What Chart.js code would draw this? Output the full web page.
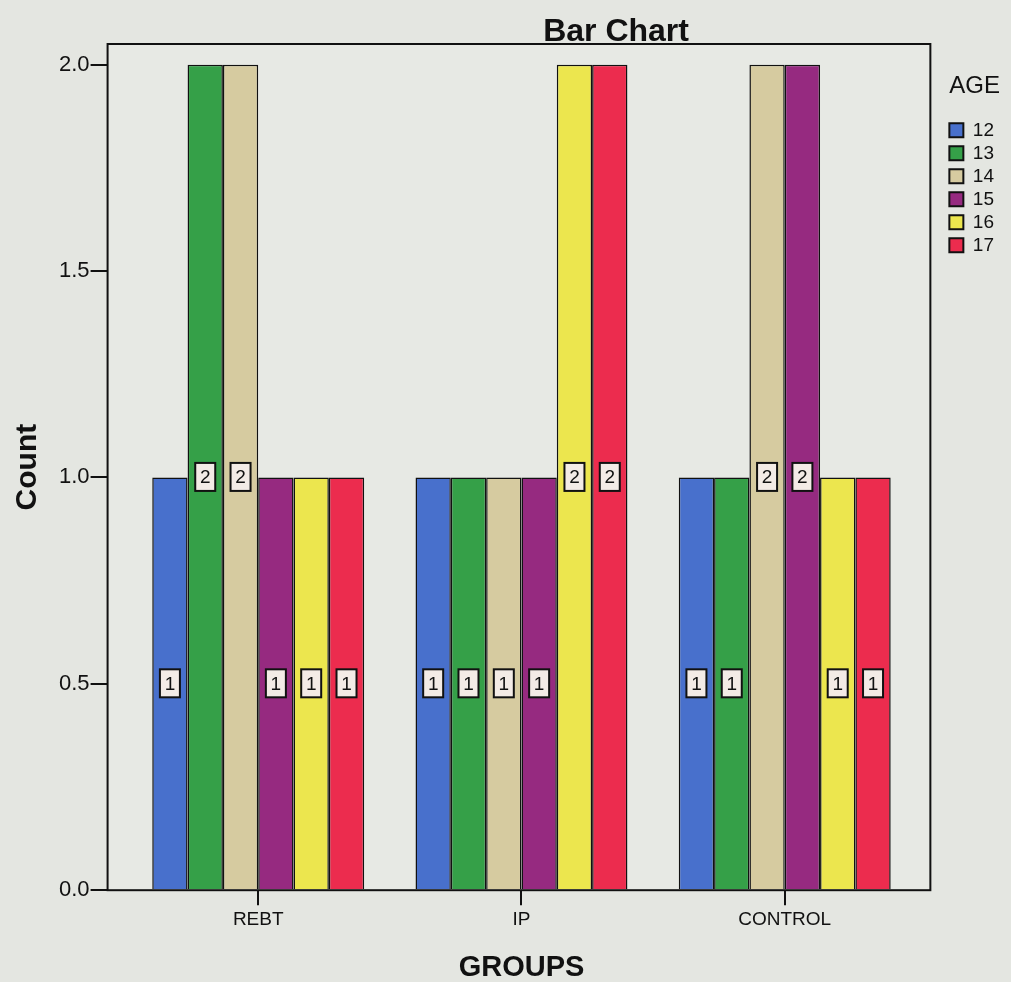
<!DOCTYPE html>
<html>
<head>
<meta charset="utf-8">
<script src="https://cdn.jsdelivr.net/npm/chart.js@4/dist/chart.umd.min.js"></script>
<style>
	html, body { margin: 0; padding: 0; background: #e4e6e1; }
	#wrap { width: 1011px; height: 982px; position: relative; }
</style>
</head>
<body>
<div id="wrap"><canvas id="chart"></canvas></div>
<script>

const groups = ['REBT', 'IP', 'CONTROL'];
const ages = ['12', '13', '14', '15', '16', '17'];
const colors = ['#4870cc', '#35a048', '#d6cba0', '#962a80', '#ece64e', '#ec2c4e'];

// counts per age, in the order of groups
const age12 = [1, 1, 1];
const age13 = [2, 1, 1];
const age14 = [2, 1, 2];
const age15 = [1, 1, 2];
const age16 = [1, 2, 1];
const age17 = [1, 2, 1];

const yTicks = [0, 0.5, 1.0, 1.5, 2.0];
const counts = [age12, age13, age14, age15, age16, age17];

const FONT = 'Arial, "Liberation Sans", Helvetica, sans-serif';

// empty space inside the frame, left and right of the bar groups
const GAP_LEFT = 19;
const GAP_RIGHT = 14;
const LEGEND_GAP = 15;


function frameBox(chart) {
	const a = chart.chartArea;
	return {left: a.left - GAP_LEFT, right: a.right + GAP_RIGHT, top: a.top, bottom: a.bottom};
}


const frame = {
	id: 'frame',
	beforeDatasetsDraw(chart) {
		const f = frameBox(chart);
		const ctx = chart.ctx;
		ctx.save();
		ctx.fillStyle = '#e7e9e4';
		ctx.fillRect(f.left, f.top, f.right - f.left, f.bottom - f.top);
		ctx.restore();
	},
	afterDatasetsDraw(chart) {
		const f = frameBox(chart);
		const ctx = chart.ctx;
		ctx.save();
		ctx.strokeStyle = '#111';
		ctx.lineWidth = 2;
		ctx.strokeRect(f.left, f.top, f.right - f.left, f.bottom - f.top);
		ctx.restore();
	},
	afterDraw(chart) {
		const f = frameBox(chart);
		const ctx = chart.ctx;
		ctx.save();
		ctx.fillStyle = '#111';
		ctx.font = 'bold 32px ' + FONT;
		ctx.textAlign = 'center';
		ctx.textBaseline = 'middle';
		ctx.fillText('Bar Chart', f.left + (f.right - f.left) * 0.618, f.top - 12);
		ctx.restore();
	}
};


const countLabels = {
	id: 'countLabels',
	afterDatasetsDraw(chart) {
		const ctx = chart.ctx;
		ctx.save();
		ctx.font = '19px ' + FONT;
		ctx.textAlign = 'center';
		ctx.textBaseline = 'middle';
		chart.data.datasets.forEach(function(ds, i) {
			chart.getDatasetMeta(i).data.forEach(function(bar, j) {
				const x = bar.x;
				const y = (bar.y + bar.base) / 2;
				const w = 20, h = 28;
				ctx.fillStyle = '#f3ebe6';
				ctx.fillRect(x - w / 2, y - h / 2, w, h);
				ctx.strokeStyle = '#111';
				ctx.lineWidth = 2;
				ctx.strokeRect(x - w / 2, y - h / 2, w, h);
				ctx.fillStyle = '#111';
				ctx.fillText(String(ds.data[j]), x, y + 1);
			});
		});
		ctx.restore();
	}
};


// invisible axis that only takes up room
function spacer(position, size) {
	return {
		type: 'linear',
		position: position,
		weight: 0,
		display: true,
		grid: {display: false},
		border: {display: false},
		ticks: {display: false},
		afterFit(axis) { axis.width = size; }
	};
}


new Chart(document.getElementById('chart'), {
	type: 'bar',
	data: {
		labels: groups,
		datasets: ages.map(function(age, i) {
			return {
				label: age,
				data: counts[i],
				backgroundColor: colors[i],
				borderColor: '#111',
				borderWidth: 1.5,
				barPercentage: 1.0,
				categoryPercentage: 0.805,
			};
		})
	},
	options: {
		responsive: true,
		maintainAspectRatio: false,
		animation: false,
		layout: {
			padding: {top: 44, right: 7, left: 10, bottom: 0}
		},
		plugins: {
			tooltip: {enabled: false},
			legend: {
				position: 'right',
				align: 'start',
				title: {
					display: true,
					text: 'AGE',
					color: '#111',
					font: {family: FONT, size: 24},
					padding: {top: 30, bottom: 14},
				},
				labels: {
					color: '#111',
					font: {family: FONT, size: 19},
					boxWidth: 14,
					boxHeight: 14,
					padding: 4,
					generateLabels(chart) {
						return chart.data.datasets.map(function(ds, i) {
							return {
								text: ds.label,
								fillStyle: ds.backgroundColor,
								strokeStyle: '#111',
								lineWidth: 2,
								datasetIndex: i,
							};
						});
					}
				}
			}
		},
		scales: {
			x: {
				grid: {
					display: true,
					drawOnChartArea: false,
					offset: false,
					color: '#111',
					tickLength: 15,
					lineWidth: 2,
				},
				border: {display: true, color: '#111', width: 2},
				ticks: {
					color: '#111',
					font: {family: FONT, size: 19},
					padding: 3,
				},
				title: {
					display: true,
					text: 'GROUPS',
					color: '#111',
					font: {family: FONT, size: 29, weight: 'bold', lineHeight: 1},
					padding: {top: 19, bottom: 0},
				}
			},
			y: {
				weight: 10,
				min: 0,
				max: 2.05,
				afterBuildTicks(axis) {
					axis.ticks = yTicks.map(function(v) { return {value: v}; });
				},
				grid: {
					display: true,
					drawOnChartArea: false,
					color: '#111',
					tickLength: 17,
					lineWidth: 2,
				},
				border: {display: true, color: '#111', width: 2},
				ticks: {
					color: '#111',
					font: {family: FONT, size: 22},
					padding: 1,
					callback(v) { return Number(v).toFixed(1); }
				},
				title: {
					display: true,
					text: 'Count',
					color: '#111',
					font: {family: FONT, size: 30, weight: 'bold'},
					padding: {top: 0, bottom: 12},
				}
			},
			gapLeft: spacer('left', GAP_LEFT),
			gapRight: spacer('right', GAP_RIGHT + LEGEND_GAP),
		}
	},
	plugins: [frame, countLabels]
});

</script>
</body>
</html>
